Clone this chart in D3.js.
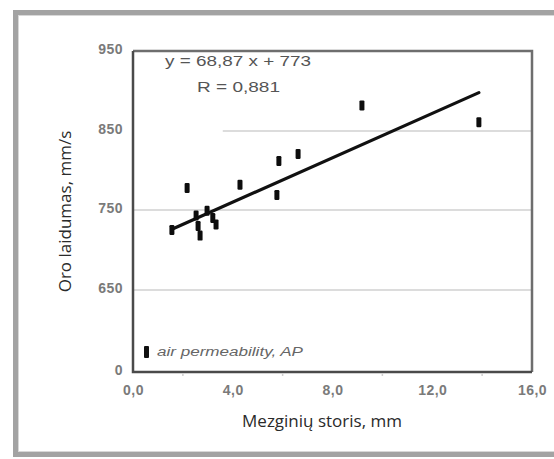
<!DOCTYPE html>
<html>
<head>
<meta charset="utf-8">
<script src="https://cdn.jsdelivr.net/npm/d3@7"></script>
<style>
  html, body { margin: 0; padding: 0; background: #fff; }
  svg { display: block; }
</style>
</head>
<body>
<svg id="chart" width="554" height="459"></svg>
<script>
// Knit thickness (mm) vs. air permeability (mm/s)
const thickness    = [1.56, 2.17, 2.53, 2.61, 2.69, 2.97, 3.2, 3.33, 4.29, 5.77, 5.85, 6.62, 9.18, 13.87];
const permeability = [725, 778, 743, 730, 718, 749, 740, 732, 782, 769, 812, 821, 882, 861];

// fitted trend line end points
const trendX = [1.56, 13.87];
const trendY = [726, 898];

const xTicks = [0, 4, 8, 12, 16];
const xTickLabels = ["0,0", "4,0", "8,0", "12,0", "16,0"];
const xMinorTicks = [2, 6, 10, 14];
const yTicks = [0, 650, 750, 850, 950];
const yTickLabels = ["0", "650", "750", "850", "950"];

const equationText = "y = 68,87 x + 773";
const rText = "R = 0,881";
const legendText = "air permeability, AP";
const xTitle = "Mezginių storis, mm";
const yTitle = "Oro laidumas, mm/s";

const svg = d3.select("#chart");

// outer grey frame
svg.append("rect")
  .attr("x", 15.5).attr("y", 12.5)
  .attr("width", 600).attr("height", 442)
  .attr("fill", "none")
  .attr("stroke", "#a3a3a3")
  .attr("stroke-width", 5);
svg.append("rect")
  .attr("x", 18.5).attr("y", 15.5)
  .attr("width", 600).attr("height", 436)
  .attr("fill", "none")
  .attr("stroke", "#d8d8d8")
  .attr("stroke-width", 1);

const plotL = 133, plotR = 532, plotT = 51, plotB = 372;

const x = d3.scaleLinear().domain([0, 16]).range([plotL, plotR]);
// broken value axis: 0..650 squeezed into one band
const y = d3.scaleLinear()
  .domain([0, 650, 750, 850, 950])
  .range([plotB, 290, 210, 131, plotT]);

// horizontal grid lines
const grid = svg.append("g");
grid.append("line")
  .attr("x1", x(3.6)).attr("x2", plotR)
  .attr("y1", y(850)).attr("y2", y(850))
  .attr("stroke", "#dcdcdc").attr("stroke-width", 2);
[750, 650].forEach(v => {
  grid.append("line")
    .attr("x1", plotL).attr("x2", plotR)
    .attr("y1", y(v)).attr("y2", y(v))
    .attr("stroke", "#dcdcdc").attr("stroke-width", 2);
});

// plot frame
svg.append("path")
  .attr("d", `M${plotL},${plotT}H${plotR}V${plotB}`)
  .attr("fill", "none").attr("stroke", "#6e6e6e").attr("stroke-width", 2.5);
svg.append("path")
  .attr("d", `M${plotL},${plotT}V${plotB}H${plotR}`)
  .attr("fill", "none").attr("stroke", "#4a4a4a").attr("stroke-width", 2.5);

// faint minor ticks under the x axis
svg.append("g").selectAll("line").data(xMinorTicks).join("line")
  .attr("x1", d => x(d)).attr("x2", d => x(d))
  .attr("y1", plotB + 1).attr("y2", plotB + 4)
  .attr("stroke", "#cfcfcf").attr("stroke-width", 1.5);

// x axis labels (via d3 axis, domain line hidden)
const xAxis = svg.append("g")
  .attr("transform", `translate(0,${plotB})`)
  .call(d3.axisBottom(x).tickValues(xTicks).tickSize(0).tickPadding(13)
    .tickFormat((d, i) => xTickLabels[i]));
xAxis.select(".domain").remove();
xAxis.selectAll("text")
  .attr("font-family", "Liberation Sans, Arial, sans-serif")
  .attr("font-size", 14).attr("font-weight", "bold")
  .attr("fill", "#7a7a7a").attr("letter-spacing", 0.5);

// y axis labels
const yAxis = svg.append("g")
  .attr("transform", `translate(${plotL},0)`)
  .call(d3.axisLeft(y).tickValues(yTicks).tickSize(0).tickPadding(10)
    .tickFormat((d, i) => yTickLabels[i]));
yAxis.select(".domain").remove();
yAxis.selectAll("text")
  .attr("font-family", "Liberation Sans, Arial, sans-serif")
  .attr("font-size", 14).attr("font-weight", "bold")
  .attr("fill", "#7a7a7a").attr("letter-spacing", 0.5)
  .attr("dy", "0.2em");

// trend line
svg.append("line")
  .attr("x1", x(trendX[0])).attr("y1", y(trendY[0]))
  .attr("x2", x(trendX[1])).attr("y2", y(trendY[1]))
  .attr("stroke", "#111").attr("stroke-width", 3.2)
  .attr("stroke-linecap", "round");

// data marks: small vertical bars
const pts = thickness.map((t, i) => ({ t, v: permeability[i] }));
svg.append("g").selectAll("rect").data(pts).join("rect")
  .attr("x", d => x(d.t) - 2.5)
  .attr("y", d => y(d.v) - 5)
  .attr("width", 5).attr("height", 10)
  .attr("rx", 1.2)
  .attr("fill", "#0d0d0d");

// regression equation
svg.append("text")
  .attr("x", 165).attr("y", 66)
  .attr("font-family", "Liberation Sans, Arial, sans-serif")
  .attr("font-size", 14).attr("fill", "#555")
  .attr("textLength", 146).attr("lengthAdjust", "spacingAndGlyphs")
  .text(equationText);
svg.append("text")
  .attr("x", 197).attr("y", 92)
  .attr("font-family", "Liberation Sans, Arial, sans-serif")
  .attr("font-size", 14).attr("fill", "#555")
  .attr("textLength", 83).attr("lengthAdjust", "spacingAndGlyphs")
  .text(rText);

// legend
svg.append("rect")
  .attr("x", 144).attr("y", 346).attr("width", 5).attr("height", 12)
  .attr("rx", 1).attr("fill", "#111");
svg.append("text")
  .attr("x", 157).attr("y", 356)
  .attr("font-family", "Liberation Sans, Arial, sans-serif")
  .attr("font-size", 12).attr("font-style", "italic").attr("fill", "#666")
  .attr("textLength", 146).attr("lengthAdjust", "spacingAndGlyphs")
  .text(legendText);

// axis titles
svg.append("text")
  .attr("x", 322).attr("y", 427)
  .attr("text-anchor", "middle")
  .attr("font-family", "Open Sans, Noto Sans, sans-serif")
  .attr("font-size", 17).attr("fill", "#2a2a2a")
  .text(xTitle);
svg.append("text")
  .attr("transform", `translate(71,${(plotT + plotB) / 2}) rotate(-90)`)
  .attr("text-anchor", "middle")
  .attr("font-family", "Open Sans, Noto Sans, sans-serif")
  .attr("font-size", 17).attr("fill", "#2a2a2a")
  .text(yTitle);
</script>
</body>
</html>
